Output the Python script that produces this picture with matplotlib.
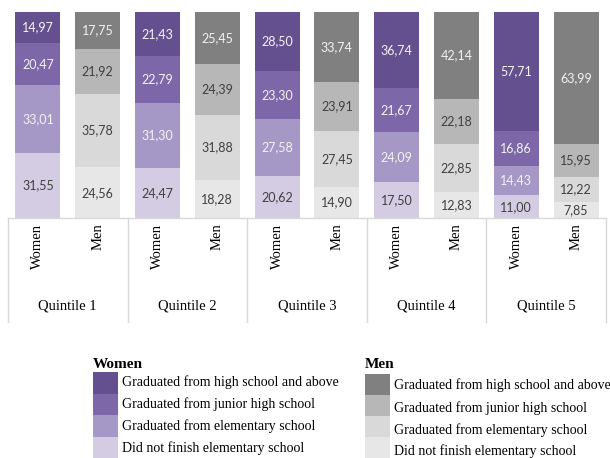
import matplotlib.pyplot as plt
from matplotlib.patches import Rectangle

# education shares (%) per income quintile, bottom to top of each bar
quintiles = ['Quintile 1', 'Quintile 2', 'Quintile 3', 'Quintile 4', 'Quintile 5']
levels = ['Did not finish elementary school',
          'Graduated from elementary school',
          'Graduated from junior high school',
          'Graduated from high school and above']

women_none = [31.55, 24.47, 20.62, 17.50, 11.00]
women_elem = [33.01, 31.30, 27.58, 24.09, 14.43]
women_jhs = [20.47, 22.79, 23.30, 21.67, 16.86]
women_hs = [14.97, 21.43, 28.50, 36.74, 57.71]

men_none = [24.56, 18.28, 14.90, 12.83, 7.85]
men_elem = [35.78, 31.88, 27.45, 22.85, 12.22]
men_jhs = [21.92, 24.39, 23.91, 22.18, 15.95]
men_hs = [17.75, 25.45, 33.74, 42.14, 63.99]

women_colors = ['#d3cce3', '#a698c6', '#7d67a8', '#65508f']
men_colors = ['#e7e7e7', '#d9d9d9', '#b7b7b7', '#808080']
# label text colour per level (light text on darker fills)
women_txt = ['#404040', '#f2f2f2', '#f2f2f2', '#f2f2f2']
men_txt = ['#404040', '#404040', '#404040', '#f2f2f2']

serif = 'Liberation Serif'
num_font = 'Lato'

fig = plt.figure(figsize=(6.1, 4.58), dpi=100)
ax = fig.add_axes([8 / 610, 1 - 218 / 458, 598 / 610, 206 / 458])

women = [women_none, women_elem, women_jhs, women_hs]
men = [men_none, men_elem, men_jhs, men_hs]

x_w = [2 * i for i in range(len(quintiles))]
x_m = [2 * i + 1 for i in range(len(quintiles))]
w = 0.75


def stack(xs, series, colors, txt):
    bottom = [0.0] * len(xs)
    for vals, c, tc in zip(series, colors, txt):
        ax.bar(xs, vals, width=w, bottom=bottom, color=c, edgecolor='none')
        for x, b, v in zip(xs, bottom, vals):
            ax.text(x, b + v / 2, f'{v:.2f}'.replace('.', ','), ha='center',
                    va='center', fontsize=9, color=tc, family=num_font)
        bottom = [b + v for b, v in zip(bottom, vals)]


stack(x_w, women, women_colors, women_txt)
stack(x_m, men, men_colors, men_txt)

ax.set_xlim(-0.5, 9.5)
ax.set_ylim(0, 100)
ax.set_yticks([])
for s in ax.spines.values():
    s.set_visible(False)

# category axis with group separators
line_c = '#d9d9d9'
ax.plot([-0.5, 9.5], [0, 0], color=line_c, lw=1, clip_on=False)
for xb in [-0.5, 1.5, 3.5, 5.5, 7.5, 9.5]:
    ax.plot([xb, xb], [0, -50.5], color=line_c, lw=1, clip_on=False)

ticks = sorted(x_w + x_m)
ax.set_xticks(ticks)
ax.set_xticklabels(['Women', 'Men'] * len(quintiles), rotation=90,
                   family=serif, fontsize=10.5, va='top')
ax.tick_params(axis='x', length=0, pad=4)
for i, q in enumerate(quintiles):
    ax.text(2 * i + 0.5, -42.5, q, ha='center', va='center',
            family=serif, fontsize=10.5)

# legends drawn in pixel space
ov = fig.add_axes([0, 0, 1, 1])
ov.set_xlim(0, 610)
ov.set_ylim(458, 0)
ov.axis('off')


def legend(x0, title, colors, ys, y_top):
    ov.text(x0, 365, title, family=serif, fontweight='bold', fontsize=11,
            va='center', ha='left')
    h = (458 - y_top) / 4
    for k in range(4):
        c = colors[3 - k]
        ov.add_patch(Rectangle((x0, y_top + k * h), 25, h, color=c, lw=0))
        ov.text(x0 + 29, ys[k], levels[3 - k], family=serif, fontsize=10,
                va='center', ha='left')


legend(93, 'Women', women_colors, [382, 404, 426, 448], 372)
legend(365, 'Men', men_colors, [385, 408, 430, 451], 374)

fig.savefig('out.png', dpi=100)
